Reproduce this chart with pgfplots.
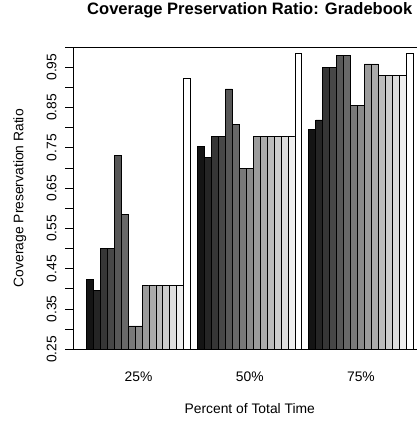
\documentclass[border=0pt]{standalone}
\usepackage{pgfplots}
\pgfplotsset{compat=1.18}
\usepackage{fontspec}
\setmainfont{Liberation Sans}
\definecolor{g1}{gray}{0.08}
\definecolor{g2}{gray}{0.146}
\definecolor{g3}{gray}{0.211}
\definecolor{g4}{gray}{0.277}
\definecolor{g5}{gray}{0.343}
\definecolor{g6}{gray}{0.409}
\definecolor{g7}{gray}{0.474}
\definecolor{g8}{gray}{0.54}
\definecolor{g9}{gray}{0.606}
\definecolor{g10}{gray}{0.671}
\definecolor{g11}{gray}{0.737}
\definecolor{g12}{gray}{0.803}
\definecolor{g13}{gray}{0.869}
\definecolor{g14}{gray}{0.934}
\definecolor{g15}{gray}{1.0}
\begin{document}
\begin{tikzpicture}
\begin{axis}[
  at={(73.4bp,72.7bp)}, anchor=south west,
  scale only axis, width=352.7bp, height=302.3bp,
  xmin=-0.88, xmax=49.88, ymin=0.25, ymax=1.0,
  axis line style={line width=0.8bp, black},
  ytick={0.25,0.30,0.35,0.40,0.45,0.50,0.55,0.60,0.65,0.70,0.75,0.80,0.85,0.90,0.95,1.00},
  yticklabels={0.25,,0.35,,0.45,,0.55,,0.65,,0.75,,0.85,,0.95,},
  xtick={8.5,24.5,40.5}, xticklabels={25\%,50\%,75\%},
  x tick style={draw=none},
  y tick style={line width=0.8bp, black},
  tick align=outside, ytick pos=left, xtick pos=bottom,
  major tick length=8.3bp,
  tick label style={font=\fontsize{13.9}{16}\selectfont},
  yticklabel style={xshift=-8.4bp, rotate=90, anchor=south, inner sep=0pt},
  xticklabel style={anchor=north, inner sep=0pt, yshift=-14bp},
  xlabel={Percent of Total Time},
  xlabel style={at={(axis description cs:0.5,-0.214)}, anchor=base, font=\fontsize{13.9}{16}\selectfont},
  ylabel={Coverage Preservation Ratio},
  ylabel style={at={(axis description cs:-0.1415,0.5)}, rotate=0, anchor=base, font=\fontsize{13.9}{16}\selectfont},
  title={Coverage Preservation Ratio: Gradebook},
  title style={at={(axis description cs:0.5,1.087)}, anchor=base, font=\bfseries\fontsize{16.6}{20}\selectfont},
  mybar/.style={ybar, bar width=1, bar shift=0pt, draw=black, line width=0.8bp},
]
\addplot[mybar, fill=g1]  coordinates {(1.5,0.423) (17.5,0.754) (33.5,0.796)};
\addplot[mybar, fill=g2]  coordinates {(2.5,0.395) (18.5,0.725) (34.5,0.819)};
\addplot[mybar, fill=g3]  coordinates {(3.5,0.500) (19.5,0.778) (35.5,0.949)};
\addplot[mybar, fill=g4]  coordinates {(4.5,0.500) (20.5,0.778) (36.5,0.949)};
\addplot[mybar, fill=g5]  coordinates {(5.5,0.731) (21.5,0.896) (37.5,0.978)};
\addplot[mybar, fill=g6]  coordinates {(6.5,0.585) (22.5,0.808) (38.5,0.978)};
\addplot[mybar, fill=g7]  coordinates {(7.5,0.308) (23.5,0.699) (39.5,0.854)};
\addplot[mybar, fill=g8]  coordinates {(8.5,0.308) (24.5,0.699) (40.5,0.854)};
\addplot[mybar, fill=g9]  coordinates {(9.5,0.409) (25.5,0.778) (41.5,0.958)};
\addplot[mybar, fill=g10] coordinates {(10.5,0.409) (26.5,0.778) (42.5,0.958)};
\addplot[mybar, fill=g11] coordinates {(11.5,0.409) (27.5,0.778) (43.5,0.930)};
\addplot[mybar, fill=g12] coordinates {(12.5,0.409) (28.5,0.778) (44.5,0.930)};
\addplot[mybar, fill=g13] coordinates {(13.5,0.409) (29.5,0.778) (45.5,0.930)};
\addplot[mybar, fill=g14] coordinates {(14.5,0.409) (30.5,0.778) (46.5,0.930)};
\addplot[mybar, fill=g15] coordinates {(15.5,0.921) (31.5,0.983) (47.5,0.983)};
\end{axis}
\pgfresetboundingbox
\path[use as bounding box] (0,0) rectangle (417bp,422bp);
\end{tikzpicture}
\end{document}
